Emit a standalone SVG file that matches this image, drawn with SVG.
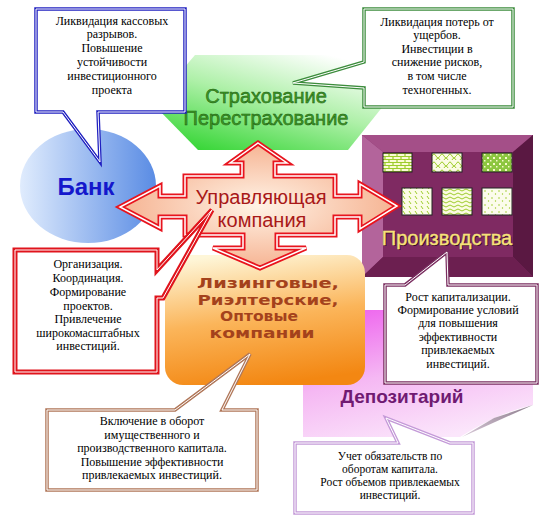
<svg xmlns="http://www.w3.org/2000/svg" width="540" height="516" viewBox="0 0 540 516">
<defs>
<style>
.ct{font-family:"Liberation Serif","Times New Roman",serif;font-size:12px;fill:#000;text-anchor:middle}
.cs{font-size:11.5px}
.inner{fill:none;stroke:#fff;stroke-width:1}
.sq{stroke:#222;stroke-width:1}
</style>
<linearGradient id="gBank" x1="0" y1="0" x2="1" y2="0">
<stop offset="0" stop-color="#e0ecfd"/><stop offset="1" stop-color="#5a8ce4"/>
</linearGradient>
<linearGradient id="gGreen" x1="0.1" y1="1" x2="0.75" y2="0">
<stop offset="0" stop-color="#2ed42e"/><stop offset="0.55" stop-color="#aef0a8"/><stop offset="1" stop-color="#ffffff"/>
</linearGradient>
<radialGradient id="gCross" cx="0.5" cy="0.5" r="0.55">
<stop offset="0" stop-color="#fff3e6"/><stop offset="1" stop-color="#f5ad8a"/>
</radialGradient>
<linearGradient id="gOrange" x1="0.3" y1="0" x2="0.5" y2="1">
<stop offset="0" stop-color="#fef6d8"/><stop offset="0.5" stop-color="#fbb55a"/><stop offset="1" stop-color="#f38712"/>
</linearGradient>
<linearGradient id="gPink" x1="0.2" y1="0" x2="0.6" y2="1">
<stop offset="0" stop-color="#ee66ee"/><stop offset="0.5" stop-color="#f5b8f3"/><stop offset="1" stop-color="#fbe6fb"/>
</linearGradient>
<linearGradient id="gFold" x1="0" y1="1" x2="1" y2="0">
<stop offset="0" stop-color="#d8c8d8"/><stop offset="1" stop-color="#8e7e8e"/>
</linearGradient>
<pattern id="pBrick" width="8" height="6" patternUnits="userSpaceOnUse">
<rect width="8" height="6" fill="#fbfbd6"/>
<path d="M0 0.5H8M0 3.5H8M1 0.5V3.5M5 3.5V6" stroke="#9ccc2a" stroke-width="1.2"/>
</pattern>
<pattern id="pScale" width="8" height="8" patternUnits="userSpaceOnUse">
<rect width="8" height="8" fill="#fbfbe4"/>
<path d="M0 4Q2 0 4 4T8 4M-4 8Q-2 4 0 8M4 8Q6 4 8 8" fill="none" stroke="#9ccc2a" stroke-width="1"/>
</pattern>
<pattern id="pCheck" width="6" height="6" patternUnits="userSpaceOnUse">
<rect width="6" height="6" fill="#8cc63f"/>
<rect x="1" y="1" width="2" height="2" fill="#f4f8c8"/><rect x="4" y="4" width="1.5" height="1.5" fill="#f4f8c8"/>
</pattern>
<pattern id="pDiag" width="6" height="5" patternUnits="userSpaceOnUse">
<rect width="6" height="5" fill="#fcfce6"/>
<path d="M1 1L3 4" stroke="#9ccc2a" stroke-width="1"/>
</pattern>
<pattern id="pWave" width="8" height="4" patternUnits="userSpaceOnUse">
<rect width="8" height="4" fill="#fbfbe2"/>
<path d="M0 2Q2 0 4 2T8 2" fill="none" stroke="#9ccc2a" stroke-width="1"/>
</pattern>
<pattern id="pDots" width="7" height="7" patternUnits="userSpaceOnUse">
<rect width="7" height="7" fill="#fcfcec"/>
<circle cx="2" cy="2" r="0.8" fill="#9ccc2a"/><circle cx="5.5" cy="5" r="0.7" fill="#9ccc2a"/>
</pattern>
</defs>

<rect width="540" height="516" fill="#fff"/>

<g id="bank">
<ellipse cx="88" cy="186" rx="68" ry="57" fill="url(#gBank)"/>
<text x="86" y="195" font-family="Liberation Sans, Arial, sans-serif" font-size="24" font-weight="bold" fill="#1418cc" text-anchor="middle">Банк</text>
</g>

<g id="insurance">
<polygon points="195,55 345,55 388,100 348,150 198,150 153,104" fill="url(#gGreen)"/>
<text x="266" y="103" font-family="Liberation Sans, Arial, sans-serif" font-size="20" fill="#3c9a24" stroke="#1d5a12" stroke-width="0.5" text-anchor="middle">Страхование</text>
<text x="266" y="125" font-family="Liberation Sans, Arial, sans-serif" font-size="20" fill="#3c9a24" stroke="#1d5a12" stroke-width="0.5" text-anchor="middle">Перестрахование</text>
</g>

<g id="production">
<rect x="362" y="135" width="171" height="142" fill="#7f2a62"/>
<polygon points="362,135 533,135 513,152 383,152" fill="#a44f88"/>
<polygon points="362,135 383,152 383,257 362,277" fill="#b3649b"/>
<polygon points="533,135 533,277 513,257 513,152" fill="#5a1842"/>
<polygon points="362,277 533,277 513,257 383,257" fill="#6c1f50"/>
<rect class="sq" x="383" y="153" width="29" height="19" fill="url(#pBrick)"/>
<rect class="sq" x="432" y="153" width="30" height="19" fill="url(#pScale)"/>
<rect class="sq" x="482" y="153" width="30" height="19" fill="url(#pCheck)"/>
<rect class="sq" x="402" y="188" width="30" height="27" fill="url(#pDiag)"/>
<rect class="sq" x="442" y="188" width="30" height="27" fill="url(#pWave)"/>
<rect class="sq" x="482" y="188" width="30" height="27" fill="url(#pDots)"/>
<text x="448" y="246" font-family="Liberation Sans, Arial, sans-serif" font-size="20" fill="#3a0828" text-anchor="middle">Производства</text>
<text x="447" y="245" font-family="Liberation Sans, Arial, sans-serif" font-size="20" fill="#f6e27a" stroke="#f6e27a" stroke-width="0.4" text-anchor="middle">Производства</text>
</g>

<g id="depository">
<path d="M303,310 H533 V405 Q500,412 460,437 H303 Z" fill="url(#gPink)"/>
<path d="M533,405 L462,437 L494,418 Z" fill="url(#gFold)"/>
<text x="402" y="403" font-family="Liberation Sans, Arial, sans-serif" font-size="19" font-weight="bold" fill="#701a72" text-anchor="middle">Депозитарий</text>
</g>

<g id="companies">
<rect x="165" y="255" width="200" height="130" rx="18" fill="url(#gOrange)"/>
<g font-family="DejaVu Sans, Verdana, sans-serif" font-size="14.5" font-weight="bold" fill="#a4421c" text-anchor="middle" lengthAdjust="spacingAndGlyphs">
<text x="268" y="288" textLength="142" lengthAdjust="spacingAndGlyphs">Лизинговые,</text>
<text x="268" y="305" textLength="141" lengthAdjust="spacingAndGlyphs">Риэлтерские,</text>
<text x="259" y="321" textLength="78" lengthAdjust="spacingAndGlyphs">Оптовые</text>
<text x="262" y="338" textLength="105" lengthAdjust="spacingAndGlyphs">компании</text>
</g>
</g>

<g id="management">
<polygon points="258,143 287,163 275,163 275,176 335,176 335,196 360,196 360,184 397,206 360,229 360,217 335,217 335,235 277,235 277,248 306,248 260,268 213,248 243,248 243,235 185,235 185,217 160,217 160,228 120,207 160,186 160,196 185,196 185,176 242,176 242,163 230,163" fill="url(#gCross)" stroke="#e8141e" stroke-width="5" stroke-linejoin="miter"/>
<polygon points="258,143 287,163 275,163 275,176 335,176 335,196 360,196 360,184 397,206 360,229 360,217 335,217 335,235 277,235 277,248 306,248 260,268 213,248 243,248 243,235 185,235 185,217 160,217 160,228 120,207 160,186 160,196 185,196 185,176 242,176 242,163 230,163" fill="none" stroke="#fff" stroke-width="1.5"/>
<text x="261" y="204" font-family="Liberation Sans, Arial, sans-serif" font-size="20" fill="#a81818" text-anchor="middle">Управляющая</text>
<text x="262" y="227" font-family="Liberation Sans, Arial, sans-serif" font-size="20" fill="#a81818" text-anchor="middle">компания</text>
</g>

<g id="callout-bank">
<polygon points="36,9 185,9 185,112 98,112 100,162 63,112 36,112" fill="#fff" stroke="#2020c0" stroke-width="3.5"/>
<polygon class="inner" points="36,9 185,9 185,112 98,112 100,162 63,112 36,112"/>
<text class="ct" x="112" y="25">Ликвидация кассовых</text>
<text class="ct" x="112" y="38">разрывов.</text>
<text class="ct" x="112" y="52">Повышение</text>
<text class="ct" x="112" y="66">устойчивости</text>
<text class="ct" x="112" y="80">инвестиционного</text>
<text class="ct" x="112" y="94">проекта</text>
</g>

<g id="callout-insurance">
<polygon points="364,9 513,9 513,107 364,107 364,88 293,83 364,62" fill="#fff" stroke="#3c8c3c" stroke-width="3.5"/>
<polygon class="inner" points="364,9 513,9 513,107 364,107 364,88 293,83 364,62"/>
<text class="ct" x="437" y="26">Ликвидация потерь от</text>
<text class="ct" x="437" y="39">ущербов.</text>
<text class="ct" x="437" y="53">Инвестиции в</text>
<text class="ct" x="437" y="66">снижение рисков,</text>
<text class="ct" x="437" y="80">в том числе</text>
<text class="ct" x="437" y="94">техногенных.</text>
</g>

<g id="callout-management">
<polygon points="15,250 157,250 157,270 212,210 163,298 157,298 157,372 15,372" fill="#fff" stroke="#e0141c" stroke-width="5"/>
<polygon class="inner" points="15,250 157,250 157,270 212,210 163,298 157,298 157,372 15,372"/>
<text class="ct" x="88" y="268">Организация.</text>
<text class="ct" x="88" y="282">Координация.</text>
<text class="ct" x="88" y="296">Формирование</text>
<text class="ct" x="88" y="310">проектов.</text>
<text class="ct" x="88" y="323">Привлечение</text>
<text class="ct" x="88" y="337">широкомасштабных</text>
<text class="ct" x="88" y="350">инвестиций.</text>
</g>

<g id="callout-production">
<polygon points="385,285 405,285 447,252 448,285 537,285 537,383 385,383" fill="#fff" stroke="#7a2e60" stroke-width="3.5"/>
<polygon class="inner" points="385,285 405,285 447,252 448,285 537,285 537,383 385,383"/>
<text class="ct" x="458" y="301">Рост капитализации.</text>
<text class="ct" x="458" y="314">Формирование условий</text>
<text class="ct" x="458" y="327">для повышения</text>
<text class="ct" x="458" y="341">эффективности</text>
<text class="ct" x="458" y="354">привлекаемых</text>
<text class="ct" x="458" y="368">инвестиций.</text>
</g>

<g id="callout-companies">
<polygon points="47,410 175,410 250,354 222,410 257,410 257,490 47,490" fill="#fff" stroke="#b07658" stroke-width="3.5"/>
<polygon class="inner" points="47,410 175,410 250,354 222,410 257,410 257,490 47,490"/>
<text class="ct" x="152" y="425">Включение в оборот</text>
<text class="ct" x="152" y="439">имущественного и</text>
<text class="ct" x="152" y="452">производственного капитала.</text>
<text class="ct" x="152" y="466">Повышение эффективности</text>
<text class="ct" x="152" y="479">привлекаемых инвестиций.</text>
</g>

<g id="callout-depository">
<polygon points="295,443 398,443 386,418 450,443 473,443 473,513 295,513" fill="#fff" stroke="#c49ad8" stroke-width="3.5"/>
<polygon class="inner" points="295,443 398,443 386,418 450,443 473,443 473,513 295,513"/>
<text class="ct cs" x="390" y="460">Учет обязательств по</text>
<text class="ct cs" x="390" y="473">оборотам капитала.</text>
<text class="ct cs" x="390" y="486">Рост объемов привлекаемых</text>
<text class="ct cs" x="390" y="499">инвестиций.</text>
</g>

<g id="connectors"></g>
</svg>
